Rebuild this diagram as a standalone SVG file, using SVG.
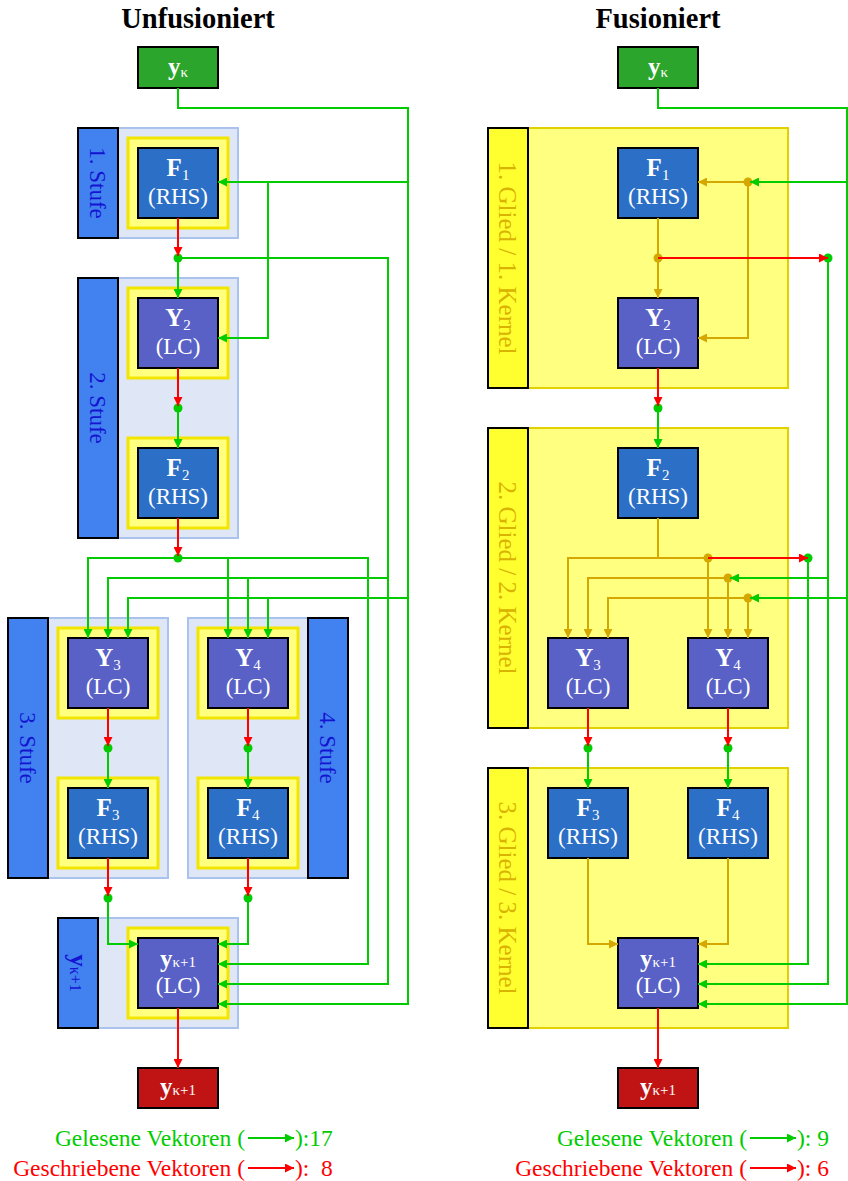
<svg xmlns="http://www.w3.org/2000/svg" width="848" height="1181" viewBox="0 0 848 1181">
<style>
text{font-family:"Liberation Serif","Times New Roman",serif}
.title{font-size:28.5px;font-weight:bold;fill:#000;text-anchor:middle}
.nt{font-size:23px;fill:#fff;text-anchor:middle}
.b{font-weight:bold;font-size:25px}
.sub{font-size:15px}
.node{stroke:#000;stroke-width:2}
.fb{fill:#2b6fc6}
.yb{fill:#5961c6}
.gin{fill:#2ca52c}
.rout{fill:#c01414}
.stbg{fill:#dfe6f5;stroke:#a9c2ee;stroke-width:2}
.stlab{fill:#4181f0;stroke:#000;stroke-width:2}
.sttx{font-size:23px;fill:#1414d2;text-anchor:middle}
.yfr{fill:#ffff80;stroke:#f2e600;stroke-width:3}
.glbg{fill:#ffff80;stroke:#e2d000;stroke-width:2}
.gllab{fill:#ffff30;stroke:#000;stroke-width:2}
.gltx{font-size:25px;fill:#d9b300;text-anchor:middle}
.g{fill:none;stroke:#00cc00;stroke-width:2}
.r{fill:none;stroke:#ff0000;stroke-width:2}
.o{fill:none;stroke:#d4a800;stroke-width:2}
.ga{marker-end:url(#ag)}
.ra{marker-end:url(#ar)}
.oa{marker-end:url(#ao)}
.dg{fill:#00cc00}
.do{fill:#d4a800}
.lg{font-size:23.5px;fill:#00cc00}
.lr{font-size:23.5px;fill:#ff0000}
</style>
<defs>
<marker id="ag" viewBox="0 0 10 10" refX="10" refY="5" markerWidth="9" markerHeight="9" markerUnits="userSpaceOnUse" orient="auto"><path d="M0,0 L10,5 L0,10 z" fill="#00cc00"/></marker>
<marker id="ar" viewBox="0 0 10 10" refX="10" refY="5" markerWidth="9" markerHeight="9" markerUnits="userSpaceOnUse" orient="auto"><path d="M0,0 L10,5 L0,10 z" fill="#ff0000"/></marker>
<marker id="ao" viewBox="0 0 10 10" refX="10" refY="5" markerWidth="9" markerHeight="9" markerUnits="userSpaceOnUse" orient="auto"><path d="M0,0 L10,5 L0,10 z" fill="#d4a800"/></marker>
</defs>

<text class="title" x="198" y="28">Unfusioniert</text>
<text class="title" x="658" y="28">Fusioniert</text>

<!-- ===== LEFT: Unfusioniert ===== -->
<g id="stufe1">
<rect class="stbg" x="118" y="128" width="120" height="110"/>
<rect class="stlab" x="78" y="128" width="40" height="110"/>
<text class="sttx" transform="translate(98,183) rotate(90)" x="0" y="8">1. Stufe</text>
<rect class="yfr" x="128" y="138" width="100" height="90"/>
</g>
<g id="stufe2">
<rect class="stbg" x="118" y="278" width="120" height="260"/>
<rect class="stlab" x="78" y="278" width="40" height="260"/>
<text class="sttx" transform="translate(98,408) rotate(90)" x="0" y="8">2. Stufe</text>
<rect class="yfr" x="128" y="288" width="100" height="90"/>
<rect class="yfr" x="128" y="438" width="100" height="90"/>
</g>
<g id="stufe3">
<rect class="stbg" x="48" y="618" width="120" height="260"/>
<rect class="stlab" x="8" y="618" width="40" height="260"/>
<text class="sttx" transform="translate(28,748) rotate(90)" x="0" y="8">3. Stufe</text>
<rect class="yfr" x="58" y="628" width="100" height="90"/>
<rect class="yfr" x="58" y="778" width="100" height="90"/>
</g>
<g id="stufe4">
<rect class="stbg" x="188" y="618" width="120" height="260"/>
<rect class="stlab" x="308" y="618" width="40" height="260"/>
<text class="sttx" transform="translate(328,748) rotate(90)" x="0" y="8">4. Stufe</text>
<rect class="yfr" x="198" y="628" width="100" height="90"/>
<rect class="yfr" x="198" y="778" width="100" height="90"/>
</g>
<g id="stufe5">
<rect class="stbg" x="98" y="918" width="140" height="110"/>
<rect class="stlab" x="58" y="918" width="40" height="110"/>
<text class="sttx" transform="translate(78,973) rotate(90)" x="0" y="8"><tspan class="b">y</tspan><tspan font-size="16">κ+1</tspan></text>
<rect class="yfr" x="128" y="928" width="100" height="90"/>
</g>

<g id="L_yk">
<rect class="node gin" x="138" y="47" width="80" height="41"/>
<text class="nt" x="178" y="75"><tspan class="b">y</tspan><tspan class="sub" dy="2">κ</tspan></text>
</g>
<g id="L_F1">
<rect class="node fb" x="138" y="148" width="80" height="70"/>
<text class="nt" x="178" y="176"><tspan class="b">F</tspan><tspan class="sub" dy="4">1</tspan></text>
<text class="nt" x="178" y="204">(RHS)</text>
</g>
<g id="L_Y2">
<rect class="node yb" x="138" y="298" width="80" height="70"/>
<text class="nt" x="178" y="326"><tspan class="b">Y</tspan><tspan class="sub" dy="4">2</tspan></text>
<text class="nt" x="178" y="354">(LC)</text>
</g>
<g id="L_F2">
<rect class="node fb" x="138" y="448" width="80" height="70"/>
<text class="nt" x="178" y="476"><tspan class="b">F</tspan><tspan class="sub" dy="4">2</tspan></text>
<text class="nt" x="178" y="504">(RHS)</text>
</g>
<g id="L_Y3">
<rect class="node yb" x="68" y="638" width="80" height="70"/>
<text class="nt" x="108" y="666"><tspan class="b">Y</tspan><tspan class="sub" dy="4">3</tspan></text>
<text class="nt" x="108" y="694">(LC)</text>
</g>
<g id="L_Y4">
<rect class="node yb" x="208" y="638" width="80" height="70"/>
<text class="nt" x="248" y="666"><tspan class="b">Y</tspan><tspan class="sub" dy="4">4</tspan></text>
<text class="nt" x="248" y="694">(LC)</text>
</g>
<g id="L_F3">
<rect class="node fb" x="68" y="788" width="80" height="70"/>
<text class="nt" x="108" y="816"><tspan class="b">F</tspan><tspan class="sub" dy="4">3</tspan></text>
<text class="nt" x="108" y="844">(RHS)</text>
</g>
<g id="L_F4">
<rect class="node fb" x="208" y="788" width="80" height="70"/>
<text class="nt" x="248" y="816"><tspan class="b">F</tspan><tspan class="sub" dy="4">4</tspan></text>
<text class="nt" x="248" y="844">(RHS)</text>
</g>
<g id="L_yk1">
<rect class="node yb" x="138" y="938" width="80" height="70"/>
<text class="nt" x="178" y="967"><tspan class="b">y</tspan><tspan class="sub">κ+1</tspan></text>
<text class="nt" x="178" y="993">(LC)</text>
</g>
<g id="L_yk1out">
<rect class="node rout" x="138" y="1068" width="80" height="40"/>
<text class="nt" x="178" y="1095"><tspan class="b">y</tspan><tspan class="sub">κ+1</tspan></text>
</g>

<!-- ===== RIGHT: Fusioniert ===== -->
<g id="glied1">
<rect class="glbg" x="528" y="128" width="260" height="260"/>
<rect class="gllab" x="488" y="128" width="40" height="260"/>
<text class="gltx" transform="translate(508,258) rotate(90)" x="0" y="9">1. Glied / 1. Kernel</text>
</g>
<g id="glied2">
<rect class="glbg" x="528" y="428" width="260" height="300"/>
<rect class="gllab" x="488" y="428" width="40" height="300"/>
<text class="gltx" transform="translate(508,578) rotate(90)" x="0" y="9">2. Glied / 2. Kernel</text>
</g>
<g id="glied3">
<rect class="glbg" x="528" y="768" width="260" height="260"/>
<rect class="gllab" x="488" y="768" width="40" height="260"/>
<text class="gltx" transform="translate(508,898) rotate(90)" x="0" y="9">3. Glied / 3. Kernel</text>
</g>

<g id="R_yk">
<rect class="node gin" x="618" y="47" width="80" height="41"/>
<text class="nt" x="658" y="75"><tspan class="b">y</tspan><tspan class="sub" dy="2">κ</tspan></text>
</g>
<g id="R_F1">
<rect class="node fb" x="618" y="148" width="80" height="70"/>
<text class="nt" x="658" y="176"><tspan class="b">F</tspan><tspan class="sub" dy="4">1</tspan></text>
<text class="nt" x="658" y="204">(RHS)</text>
</g>
<g id="R_Y2">
<rect class="node yb" x="618" y="298" width="80" height="70"/>
<text class="nt" x="658" y="326"><tspan class="b">Y</tspan><tspan class="sub" dy="4">2</tspan></text>
<text class="nt" x="658" y="354">(LC)</text>
</g>
<g id="R_F2">
<rect class="node fb" x="618" y="448" width="80" height="70"/>
<text class="nt" x="658" y="476"><tspan class="b">F</tspan><tspan class="sub" dy="4">2</tspan></text>
<text class="nt" x="658" y="504">(RHS)</text>
</g>
<g id="R_Y3">
<rect class="node yb" x="548" y="638" width="80" height="70"/>
<text class="nt" x="588" y="666"><tspan class="b">Y</tspan><tspan class="sub" dy="4">3</tspan></text>
<text class="nt" x="588" y="694">(LC)</text>
</g>
<g id="R_Y4">
<rect class="node yb" x="688" y="638" width="80" height="70"/>
<text class="nt" x="728" y="666"><tspan class="b">Y</tspan><tspan class="sub" dy="4">4</tspan></text>
<text class="nt" x="728" y="694">(LC)</text>
</g>
<g id="R_F3">
<rect class="node fb" x="548" y="788" width="80" height="70"/>
<text class="nt" x="588" y="816"><tspan class="b">F</tspan><tspan class="sub" dy="4">3</tspan></text>
<text class="nt" x="588" y="844">(RHS)</text>
</g>
<g id="R_F4">
<rect class="node fb" x="688" y="788" width="80" height="70"/>
<text class="nt" x="728" y="816"><tspan class="b">F</tspan><tspan class="sub" dy="4">4</tspan></text>
<text class="nt" x="728" y="844">(RHS)</text>
</g>
<g id="R_yk1">
<rect class="node yb" x="618" y="938" width="80" height="70"/>
<text class="nt" x="658" y="967"><tspan class="b">y</tspan><tspan class="sub">κ+1</tspan></text>
<text class="nt" x="658" y="993">(LC)</text>
</g>
<g id="R_yk1out">
<rect class="node rout" x="618" y="1068" width="80" height="40"/>
<text class="nt" x="658" y="1095"><tspan class="b">y</tspan><tspan class="sub">κ+1</tspan></text>
</g>

<g id="connectors">
<g id="dots">
<circle class="dg" cx="178" cy="258" r="4.5"/>
<circle class="dg" cx="178" cy="408" r="4.5"/>
<circle class="dg" cx="178" cy="558" r="4.5"/>
<circle class="dg" cx="108" cy="748" r="4.5"/>
<circle class="dg" cx="248" cy="748" r="4.5"/>
<circle class="dg" cx="108" cy="898" r="4.5"/>
<circle class="dg" cx="248" cy="898" r="4.5"/>
<circle class="do" cx="748" cy="182" r="4.5"/>
<circle class="do" cx="658" cy="258" r="4.5"/>
<circle class="do" cx="708" cy="558" r="4.5"/>
<circle class="do" cx="728" cy="578" r="4.5"/>
<circle class="do" cx="748" cy="598" r="4.5"/>
<circle class="dg" cx="828" cy="258" r="4.5"/>
<circle class="dg" cx="808" cy="558" r="4.5"/>
<circle class="dg" cx="658" cy="408" r="4.5"/>
<circle class="dg" cx="588" cy="748" r="4.5"/>
<circle class="dg" cx="728" cy="748" r="4.5"/>
</g>
<path class="g ga" d="M178,88 V108 H408 V1004 H218"/>
<path class="g ga" d="M408,182 H218"/>
<path class="g ga" d="M268,182 V338 H218"/>
<path class="g ga" d="M178,258 V298"/>
<path class="g ga" d="M178,258 H388 V984 H218"/>
<path class="g ga" d="M388,578 H108 V638"/>
<path class="g ga" d="M248,578 V638"/>
<path class="g ga" d="M178,408 V448"/>
<path class="g ga" d="M178,558 H88 V638"/>
<path class="g ga" d="M178,558 H368 V964 H218"/>
<path class="g ga" d="M228,558 V638"/>
<path class="g ga" d="M408,598 H128 V638"/>
<path class="g ga" d="M268,598 V638"/>
<path class="g ga" d="M108,748 V788"/>
<path class="g ga" d="M248,748 V788"/>
<path class="g ga" d="M108,898 V944 H138"/>
<path class="g ga" d="M248,898 V944 H218"/>
<path class="r ra" d="M178,218 V256"/>
<path class="r ra" d="M178,368 V406"/>
<path class="r ra" d="M178,518 V556"/>
<path class="r ra" d="M108,708 V746"/>
<path class="r ra" d="M248,708 V746"/>
<path class="r ra" d="M108,858 V896"/>
<path class="r ra" d="M248,858 V896"/>
<path class="r ra" d="M178,1008 V1068"/>
<path class="o oa" d="M658,218 V298"/>
<path class="o oa" d="M748,182 H698"/>
<path class="o oa" d="M748,182 V338 H698"/>
<path class="o" d="M658,518 V558"/>
<path class="o oa" d="M708,558 H568 V638"/>
<path class="o oa" d="M708,558 V638"/>
<path class="o oa" d="M728,578 H588 V638"/>
<path class="o oa" d="M728,578 V638"/>
<path class="o oa" d="M748,598 H608 V638"/>
<path class="o oa" d="M748,598 V638"/>
<path class="o oa" d="M588,858 V944 H618"/>
<path class="o oa" d="M728,858 V944 H698"/>
<path class="g ga" d="M658,88 V108 H847 V1004 H698"/>
<path class="g ga" d="M847,182 H750"/>
<path class="g ga" d="M847,598 H750"/>
<path class="g ga" d="M828,258 V984 H698"/>
<path class="g ga" d="M828,578 H730"/>
<path class="g ga" d="M808,558 V964 H698"/>
<path class="g ga" d="M658,408 V448"/>
<path class="g ga" d="M588,748 V788"/>
<path class="g ga" d="M728,748 V788"/>
<path class="r ra" d="M658,258 H828"/>
<path class="r ra" d="M708,558 H808"/>
<path class="r ra" d="M658,368 V406"/>
<path class="r ra" d="M588,708 V746"/>
<path class="r ra" d="M728,708 V746"/>
<path class="r ra" d="M658,1008 V1068"/>
</g>

<g id="legend">
<text class="lg" x="245" y="1146" text-anchor="end">Gelesene Vektoren (</text>
<path class="g ga" d="M248,1138 H294"/>
<text class="lg" x="295" y="1146">):17</text>
<text class="lr" x="245" y="1176" text-anchor="end">Geschriebene Vektoren (</text>
<path class="r ra" d="M248,1168 H294"/>
<text class="lr" x="295" y="1176">):<tspan x="321">8</tspan></text>
<text class="lg" x="747" y="1146" text-anchor="end">Gelesene Vektoren (</text>
<path class="g ga" d="M750,1138 H796"/>
<text class="lg" x="797" y="1146">): 9</text>
<text class="lr" x="747" y="1176" text-anchor="end">Geschriebene Vektoren (</text>
<path class="r ra" d="M750,1168 H796"/>
<text class="lr" x="797" y="1176">): 6</text>
</g>
</svg>
